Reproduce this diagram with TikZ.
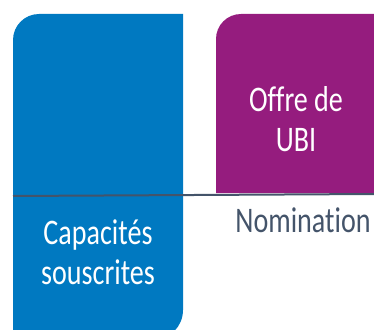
\documentclass[tikz,border=0pt]{standalone}
\usepackage{fontspec}
\setmainfont[FakeStretch=0.78, Ligatures=NoCommon]{Carlito}
\usepackage{tikz}
\usetikzlibrary{positioning}
\usepackage{xcolor}
\definecolor{capblue}{HTML}{0079C1}
\definecolor{ubipurple}{HTML}{951C7E}
\definecolor{slate}{HTML}{44546A}

\begin{document}
\begin{tikzpicture}[x=1pt, y=-1pt]
      \tikzstyle{label}=[font={\fontsize{36}{39.5}\selectfont}, align=center, inner sep=0pt, anchor=base]
      \tikzstyle{boxlabel}=[label, text=white]

      \useasboundingbox (0,0) rectangle (374,329);
      \clip (0,0) rectangle (374,329);

      % blocks
      \fill[capblue] (13,345) [rounded corners=26pt] -- (13,14) [sharp corners] -- (183,14) [rounded corners=30pt] -- (183,340) [sharp corners] -- (13,340) -- cycle;
      \fill[ubipurple] (216,193) [rounded corners=25pt] -- (216,14) [sharp corners] -- (380,14) -- (380,193) -- cycle;

      % base of a two-line label is its last line
      \node[boxlabel] (capacites) at (98,284) {Capacités\\souscrites};
      \node[boxlabel] (offre) at (296,151) {Offre de\\UBI};
      \node[label, text=slate] (nomination) at (303,232) {Nomination};

      % axis
      \coordinate (axisleft) at (13,196);
      \coordinate (axisright) at (374,194);
      \draw[slate, line width=2pt] (axisleft) -- (axisright);
\end{tikzpicture}
\end{document}
